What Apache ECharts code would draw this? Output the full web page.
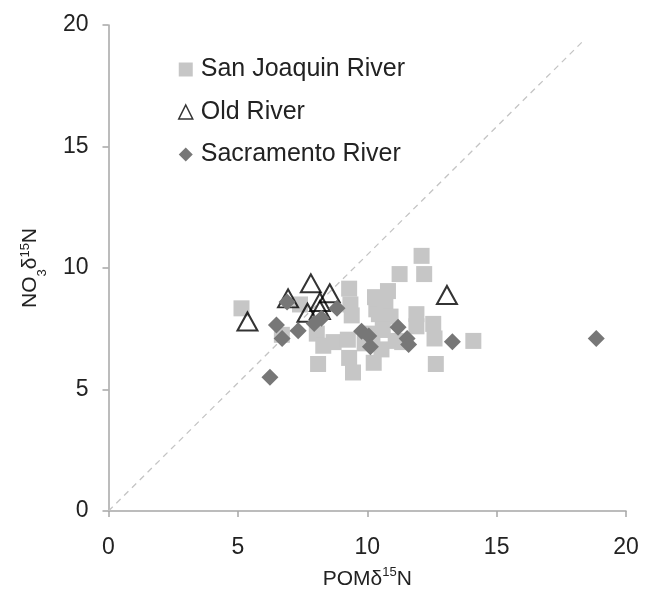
<!DOCTYPE html>
<html><head><meta charset="utf-8">
<script src="https://cdn.jsdelivr.net/npm/echarts@6/dist/echarts.min.js"></script>
<style>html,body{margin:0;padding:0;background:#fff}#c{width:651px;height:589px}</style>
</head><body><div id="c"></div>
<script>
const xTicks = [0, 5, 10, 15, 20];
const yTicks = [0, 5, 10, 15, 20];
const seriesNames = ['San Joaquin River', 'Old River', 'Sacramento River'];
const sanJoaquin = [
  [5.14, 8.34], [6.7, 7.25], [7.4, 8.5], [8.05, 7.3], [8.1, 6.05], [8.3, 6.8], [8.7, 6.95],
  [9.25, 7.05], [9.3, 9.15], [9.35, 8.5], [9.4, 8.05], [9.3, 6.3], [9.45, 5.7],
  [10.3, 8.8], [10.35, 8.3], [10.45, 8.1], [10.7, 8.6], [10.8, 9.05], [10.9, 8.0],
  [10.6, 7.45], [10.2, 7.0], [10.55, 6.65], [10.25, 6.1], [10.0, 7.3], [9.9, 6.9],
  [11.25, 9.75], [12.1, 10.5], [12.2, 9.75], [11.9, 8.1], [11.9, 7.6], [11.1, 7.0],
  [11.35, 6.95], [12.55, 7.7], [12.6, 7.1], [12.65, 6.05], [14.1, 7.0]
];
const oldRiver = [
  [5.37, 7.8], [6.94, 8.75], [7.82, 9.37], [7.69, 8.16], [8.17, 8.6], [8.55, 8.96],
  [8.17, 8.27], [13.08, 8.89]
];
const sacramento = [
  [6.24, 5.5], [6.49, 7.65], [6.71, 7.1], [7.33, 7.42], [6.9, 8.6], [7.95, 7.72],
  [8.23, 7.93], [8.83, 8.34], [9.78, 7.4], [10.06, 7.2], [10.12, 6.76], [11.19, 7.56],
  [11.54, 7.1], [11.6, 6.85], [13.29, 6.97], [18.85, 7.1]
];
const refLine = [[0, 0], [18.4, 19.4]];

const chart = echarts.init(document.getElementById('c'), null, {renderer: 'canvas'});
const FONT = 'Liberation Sans, Arial, Helvetica, sans-serif';
const axisCol = '#a6a6a6';
const txt = '#222';
chart.setOption({
  animation: false,
  backgroundColor: '#fff',
  textStyle: {fontFamily: FONT},
  grid: {left: 108.5, right: 25, top: 25, bottom: 78, containLabel: false, outerBoundsMode: 'none'},
  legend: {
    orient: 'vertical', left: 178, top: 57, itemGap: 17.5, padding: 0,
    itemWidth: 14, itemHeight: 14,
    textStyle: {fontSize: 25, color: txt, fontFamily: FONT, lineHeight: 25, padding: [0, 0, 0, 3]},
    data: [
      {name: seriesNames[0], icon: 'rect'},
      {name: seriesNames[1], icon: 'triangle', itemStyle: {color: '#fff', borderColor: '#000', borderWidth: 1.5}},
      {name: seriesNames[2], icon: 'diamond'}
    ]
  },
  xAxis: {
    type: 'value', min: 0, max: 20, interval: 5,
    axisLine: {show: true, lineStyle: {color: axisCol, width: 1.5}},
    axisTick: {show: true, length: 6, lineStyle: {color: axisCol, width: 1.5}},
    splitLine: {show: false},
    axisLabel: {fontSize: 23, color: txt, margin: 25, fontFamily: FONT,
      formatter: v => xTicks.includes(v) ? String(v) : ''},
    name: '{a|POMδ}{sup|15}{a|N}', nameLocation: 'middle', nameGap: 55, nameMoveOverlap: false,
    nameTextStyle: {rich: {
      a: {fontSize: 21, color: txt, fontFamily: FONT, lineHeight: 24, verticalAlign: 'bottom'},
      sup: {fontSize: 13, color: txt, fontFamily: FONT, verticalAlign: 'top', lineHeight: 14}
    }}
  },
  yAxis: {
    type: 'value', min: 0, max: 20, interval: 5,
    axisLine: {show: true, lineStyle: {color: axisCol, width: 1.5}},
    axisTick: {show: true, length: 6, lineStyle: {color: axisCol, width: 1.5}},
    splitLine: {show: false},
    axisLabel: {fontSize: 23, color: txt, margin: 20, fontFamily: FONT,
      formatter: v => yTicks.includes(v) ? String(v) : ''},
    name: '{a|NO}{sub|3}{a|δ}{sup|15}{a|N}', nameLocation: 'middle', nameGap: 66, nameRotate: 90,
    nameMoveOverlap: false,
    nameTextStyle: {rich: {
      a: {fontSize: 21, color: txt, fontFamily: FONT, lineHeight: 24},
      sup: {fontSize: 13, color: txt, fontFamily: FONT, verticalAlign: 'top', lineHeight: 14},
      sub: {fontSize: 13, color: txt, fontFamily: FONT, verticalAlign: 'bottom', lineHeight: 14, padding: [0, 0, -6, 0]}
    }}
  },
  series: [
    {
      type: 'line', data: refLine, symbol: 'none', silent: true,
      lineStyle: {color: '#c4c4c4', width: 1.3, type: [6, 5]}, z: 1
    },
    {
      name: seriesNames[0], type: 'scatter', data: sanJoaquin, symbol: 'rect', symbolSize: 16,
      itemStyle: {color: '#c6c6c6', opacity: 1}, z: 2
    },
    {
      name: seriesNames[1], type: 'scatter', data: oldRiver, symbol: 'triangle', symbolSize: [20, 18],
      itemStyle: {color: 'rgba(255,255,255,0)', borderColor: '#000', borderWidth: 2}, z: 3
    },
    {
      name: seriesNames[2], type: 'scatter', data: sacramento, symbol: 'diamond', symbolSize: 17,
      itemStyle: {color: '#777777', opacity: 1}, z: 4
    }
  ]
});
</script></body></html>
